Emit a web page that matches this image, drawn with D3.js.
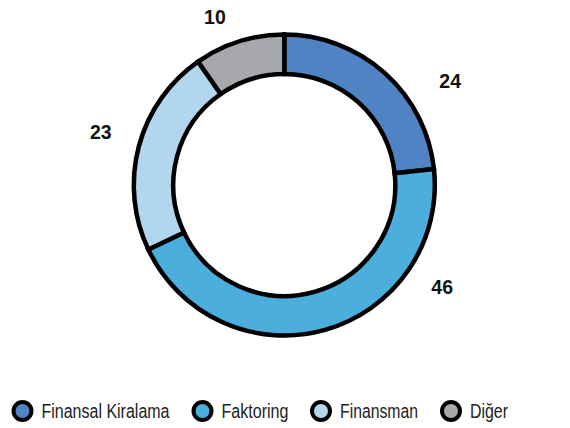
<!DOCTYPE html>
<html>
<head>
<meta charset="utf-8">
<script src="https://cdn.jsdelivr.net/npm/d3@7"></script>
<style>
  html, body { margin: 0; padding: 0; background: #fff; }
  svg { display: block; }
</style>
</head>
<body>
<svg id="chart" width="570" height="428"></svg>
<script>
// Portfolio breakdown (%)
const categories = ["Finansal Kiralama", "Faktoring", "Finansman", "Diğer"];
const values = [24, 46, 23, 10];
const colors = ["#5083c4", "#4baedc", "#b2d6ee", "#a7a8ac"];

// Layout
const W = 570, H = 428;
const cx = 284.3, cy = 185;
const outerR = 150.5, innerR = 111;
const labelAngleDeg = [57.8, 122.9, 286.1, 337.6];
const labelRadius = [196, 188, 191, 182];

const svg = d3.select("#chart");

const pie = d3.pie().sort(null).value(d => d)(values);
const arc = d3.arc().innerRadius(innerR).outerRadius(outerR);

const g = svg.append("g").attr("transform", `translate(${cx},${cy})`);

g.selectAll("path.slice")
  .data(pie)
  .join("path")
  .attr("class", "slice")
  .attr("d", arc)
  .attr("fill", (d, i) => colors[i])
  .attr("stroke", "#000")
  .attr("stroke-width", 4.5)
  .attr("stroke-linejoin", "miter");

g.selectAll("text.val")
  .data(pie)
  .join("text")
  .attr("class", "val")
  .attr("x", (d, i) => labelRadius[i] * Math.sin(labelAngleDeg[i] * Math.PI / 180))
  .attr("y", (d, i) => -labelRadius[i] * Math.cos(labelAngleDeg[i] * Math.PI / 180))
  .attr("text-anchor", "middle")
  .attr("dy", "0.36em")
  .attr("font-family", "'Liberation Sans', Arial, sans-serif")
  .attr("font-weight", "bold")
  .attr("font-size", 19.5)
  .attr("fill", "#111")
  .text(d => d.data);

// Legend: condensed labels fitted to their slot widths
const legendX = [22.5, 202.5, 321, 451];
const legendTextW = [128, 67, 78, 38];
const legendY = 411;
const lg = svg.append("g");
const items = lg.selectAll("g.item")
  .data(categories)
  .join("g")
  .attr("class", "item")
  .attr("transform", (d, i) => `translate(${legendX[i]},${legendY})`);

items.append("circle")
  .attr("r", 9)
  .attr("fill", (d, i) => colors[i])
  .attr("stroke", "#000")
  .attr("stroke-width", 4);

items.append("text")
  .attr("x", 19)
  .attr("y", 0)
  .attr("dy", "0.36em")
  .attr("font-family", "'Liberation Sans', Arial, sans-serif")
  .attr("font-size", 20)
  .attr("fill", "#222")
  .attr("textLength", (d, i) => legendTextW[i])
  .attr("lengthAdjust", "spacingAndGlyphs")
  .text(d => d);
</script>
</body>
</html>
